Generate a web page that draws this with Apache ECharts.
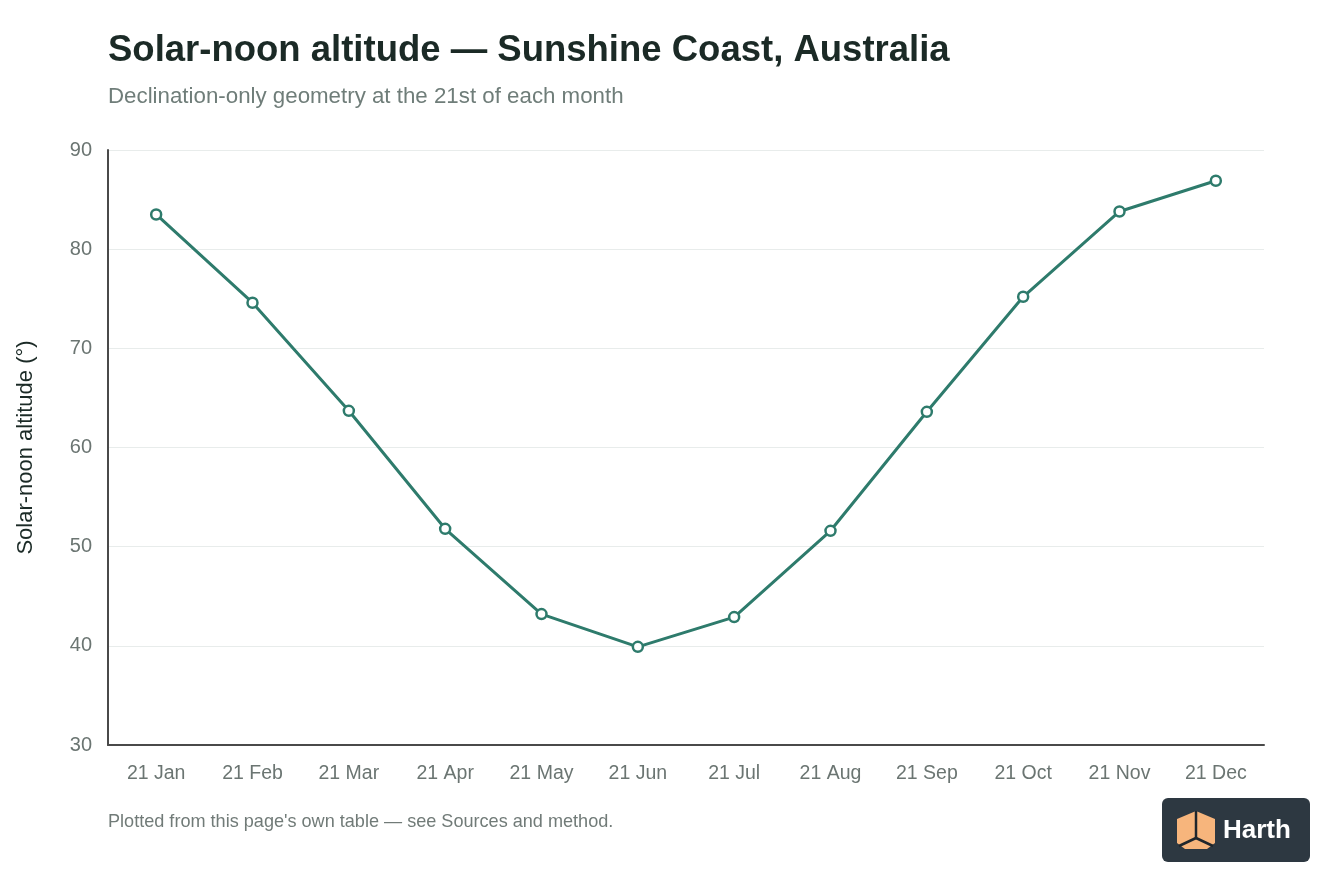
<!DOCTYPE html>
<html>
<head>
<meta charset="utf-8">
<script src="https://cdn.jsdelivr.net/npm/echarts@6/dist/echarts.min.js"></script>
<style>
  html, body { margin: 0; padding: 0; background: #fff; }
  #chart { width: 1344px; height: 896px; }
</style>
</head>
<body>
<div id="chart"></div>
<script>
// 21st of each month
var months = ['21 Jan', '21 Feb', '21 Mar', '21 Apr', '21 May', '21 Jun',
              '21 Jul', '21 Aug', '21 Sep', '21 Oct', '21 Nov', '21 Dec'];
// solar-noon altitude, degrees
var altitude = [83.5, 74.6, 63.7, 51.8, 43.2, 39.9, 42.9, 51.6, 63.6, 75.2, 83.8, 86.9];
var yTicks = [30, 40, 50, 60, 70, 80, 90];

var font = '"Liberation Sans", Arial, Helvetica, sans-serif';
var teal = '#2e7b6c';

var myChart = echarts.init(document.getElementById('chart'));
var option = {
    backgroundColor: '#fff',
    textStyle: { fontFamily: font },
    title: {
        text: 'Solar-noon altitude \u2014 Sunshine Coast, Australia',
        subtext: 'Declination-only geometry at the 21st of each month',
        left: 103,
        top: 27,
        itemGap: 17,
        textStyle: { fontFamily: font, fontSize: 36.5, fontWeight: 'bold', color: '#1b2a26' },
        subtextStyle: { fontFamily: font, fontSize: 22.3, color: '#6f7d79' }
    },
    grid: { left: 108, right: 80, top: 150, bottom: 151 },
    xAxis: {
        type: 'category',
        data: months,
        boundaryGap: true,
        axisLine: { lineStyle: { color: '#4a4a4a', width: 2 } },
        axisTick: { show: false },
        axisLabel: { fontFamily: font, fontSize: 19.5, color: '#6b7572', margin: 19 }
    },
    yAxis: {
        type: 'value',
        min: yTicks[0],
        max: yTicks[yTicks.length - 1],
        interval: 10,
        name: 'Solar-noon altitude (\u00b0)',
        nameLocation: 'middle',
        nameGap: 71,
        nameTextStyle: { fontFamily: font, fontSize: 22, color: '#1b2a26' },
        axisLine: { show: true, lineStyle: { color: '#4a4a4a', width: 2 } },
        axisTick: { show: false },
        axisLabel: { fontFamily: font, fontSize: 20, color: '#6b7572', margin: 16 },
        splitLine: { lineStyle: { color: '#e8eceb', width: 1 } }
    },
    series: [{
        type: 'line',
        data: altitude,
        symbol: 'circle',
        symbolSize: 10,
        lineStyle: { color: teal, width: 3 },
        itemStyle: { color: '#fff', borderColor: teal, borderWidth: 2.5 },
        emphasis: { disabled: true }
    }],
    graphic: [
        {
            type: 'text',
            left: 108,
            top: 813,
            style: {
                text: "Plotted from this page's own table \u2014 see Sources and method.",
                fontFamily: font, fontSize: 18.1, fill: '#717b78'
            }
        },
        {
            type: 'group',
            left: 1162,
            top: 798,
            children: [
                { type: 'rect', shape: { x: 0, y: 0, width: 148, height: 64, r: 6 }, style: { fill: '#2d3841' } },
                { type: 'polygon', shape: { points: [[34, 13], [53, 21], [53, 45], [45, 51], [23, 51], [15, 45], [15, 21]] }, style: { fill: '#f7b57c' } },
                { type: 'polyline', shape: { points: [[34, 13], [34, 40]] }, style: { stroke: '#1f262c', lineWidth: 2.5 } },
                { type: 'polyline', shape: { points: [[17, 48], [34, 40], [51, 48]] }, style: { stroke: '#1f262c', lineWidth: 2.5, fill: null } },
                { type: 'text', x: 61, y: 20, style: { text: 'Harth', fontFamily: font, fontSize: 26, fontWeight: 'bold', fill: '#ffffff' } }
            ]
        }
    ]
};
myChart.setOption(option);
</script>
</body>
</html>
